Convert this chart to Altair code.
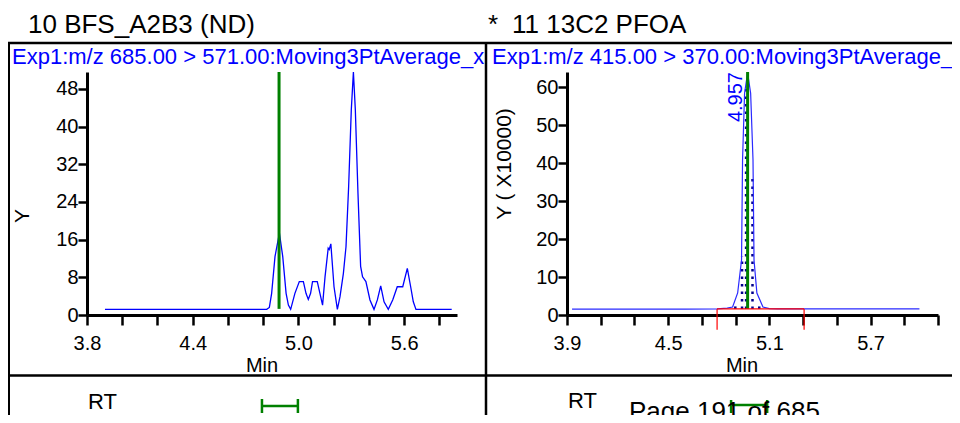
import altair as alt
import pandas as pd

FONT = "Liberation Sans"

# ---------------- data ----------------
# Left panel: 10 BFS_A2B3 (ND)
left_time = [3.902, 4.820, 4.835, 4.848, 4.867, 4.892, 4.911, 4.930, 4.943, 4.956,
             4.980, 5.005, 5.028, 5.043, 5.056, 5.069, 5.080, 5.107, 5.122, 5.137,
             5.151, 5.169, 5.175, 5.184, 5.202, 5.221, 5.236, 5.255, 5.270, 5.285,
             5.300, 5.312, 5.323, 5.338, 5.353, 5.364, 5.383, 5.406, 5.429, 5.448,
             5.467, 5.486, 5.510, 5.535, 5.561, 5.592, 5.618, 5.637, 5.652, 5.667, 5.870]
left_signal = [1.2, 1.2, 1.6, 4.6, 12.4, 17.4, 12.4, 4.6, 2.1, 1.2,
               4.6, 7.1, 7.1, 4.6, 3.3, 4.6, 7.1, 7.1, 4.6, 2.1,
               8.1, 14.2, 13.9, 15.1, 6.0, 1.2, 3.9, 8.8, 14.5, 27.3,
               43.5, 51.6, 43.5, 25.8, 10.3, 8.1, 7.1, 3.2, 1.2, 3.2,
               6.2, 2.8, 1.2, 3.2, 6.0, 6.0, 9.9, 6.0, 2.8, 1.2, 1.2]
left_rt = [4.890]
left_rt_low = [1.3]
left_rt_high = [51.6]
left_window = [4.793, 4.997]
left_x_ticks = [3.8, 4.0, 4.2, 4.4, 4.6, 4.8, 5.0, 5.2, 5.4, 5.6, 5.8]
left_y_ticks = [0, 8, 16, 24, 32, 40, 48]

# Right panel: 11 13C2 PFOA  (Y x 10000)
right_time = [3.930, 4.600, 4.790, 4.850, 4.882, 4.912, 4.935, 4.941, 4.953, 4.971,
              4.989, 5.003, 5.009, 5.026, 5.062, 5.100, 5.150, 5.500, 5.990]
right_signal = [1.55, 1.55, 1.6, 1.8, 2.1, 5.8, 14.5, 40.8, 58.4, 63.8,
                58.4, 40.8, 14.5, 5.8, 2.1, 1.7, 1.6, 1.6, 1.6]
right_rt = [4.971]
right_rt_low = [1.6]
right_rt_high = [64.0]
hatch_time = [4.898, 4.938, 4.962, 5.000, 5.040]
hatch_top = [3.4, 15.5, 60.0, 36.0, 3.4]
hatch_base = [1.6, 1.6, 1.6, 1.6, 1.6]
baseline_time = [4.790, 5.306]
baseline_level = [1.6, 1.6]
baseline_drop = [-3.9, -3.9]
peak_label = ["4.957"]
peak_label_time = [4.938]
peak_label_level = [64.0]
right_window = [4.873, 5.087]
right_x_ticks = [3.9, 4.1, 4.3, 4.5, 4.7, 4.9, 5.1, 5.3, 5.5, 5.7, 5.9, 6.1]
right_y_ticks = [0, 10, 20, 30, 40, 50, 60]

# ---------------- scales & axes ----------------
lx = alt.Scale(domain=[3.8, 5.9], range=[0, 370], nice=False, zero=False)
ly = alt.Scale(domain=[0, 51.6], range=[243, 0], nice=False, zero=False)
rx = alt.Scale(domain=[3.9, 6.1], range=[480, 851], nice=False, zero=False)
ry = alt.Scale(domain=[0, 64], range=[243, 0], nice=False, zero=False)

common = dict(domainColor="black", domainWidth=3, tickColor="black", tickWidth=2.5,
              labelFont=FONT, labelFontSize=20, labelColor="black", grid=False,
              title=None, labelOverlap=False, labelFlush=False)

lx_axis = alt.Axis(orient="bottom", values=left_x_ticks, tickSize=10, labelPadding=8,
                   labelExpr="round((datum.value-3.8)*10) % 6 == 0 ? format(datum.value, '.1f') : ''",
                   **common)
ly_axis = alt.Axis(orient="left", values=left_y_ticks, tickSize=9, labelPadding=0, **common)
rx_axis = alt.Axis(orient="bottom", values=right_x_ticks, tickSize=10, labelPadding=8,
                   labelExpr="round((datum.value-3.9)*10) % 6 == 0 ? format(datum.value, '.1f') : ''",
                   **common)
ry_axis = alt.Axis(orient="left", values=right_y_ticks, tickSize=9, labelPadding=0,
                   offset=-480, **common)

# ---------------- left panel ----------------
ldf = pd.DataFrame({"t": left_time, "v": left_signal})
left_line = alt.Chart(ldf).mark_line(color="#0000ff", strokeWidth=1.3).encode(
    x=alt.X("t:Q", scale=lx, axis=lx_axis), y=alt.Y("v:Q", scale=ly, axis=ly_axis))
left_green = alt.Chart(pd.DataFrame({"t": left_rt, "lo": left_rt_low, "hi": left_rt_high})).mark_rule(
    color="#008000", strokeWidth=3).encode(
    x=alt.X("t:Q", scale=lx, axis=lx_axis), y=alt.Y("lo:Q", scale=ly, axis=ly_axis), y2="hi:Q")
left_win = alt.Chart(pd.DataFrame({"a": [left_window[0]], "b": [left_window[1]]})).mark_rule(
    color="#008000", strokeWidth=2.5).encode(
    x=alt.X("a:Q", scale=lx, axis=lx_axis), x2="b:Q", y=alt.value(334))
left_caps = alt.Chart(pd.DataFrame({"t": left_window})).mark_rule(
    color="#008000", strokeWidth=2.5).encode(
    x=alt.X("t:Q", scale=lx, axis=lx_axis), y=alt.value(327), y2=alt.value(341))
left = alt.layer(left_line, left_green, left_win, left_caps)

# ---------------- right panel ----------------
rdf = pd.DataFrame({"t": right_time, "v": right_signal})
hatch = alt.Chart(pd.DataFrame({"t": hatch_time, "lo": hatch_base, "hi": hatch_top})).mark_rule(
    color="#00008b", strokeWidth=2.5, strokeDash=[2.5, 5]).encode(
    x=alt.X("t:Q", scale=rx, axis=rx_axis), y=alt.Y("lo:Q", scale=ry, axis=ry_axis), y2="hi:Q")
right_line = alt.Chart(rdf).mark_line(color="#2a2aff", strokeWidth=1.2).encode(
    x=alt.X("t:Q", scale=rx, axis=rx_axis), y=alt.Y("v:Q", scale=ry, axis=ry_axis))
right_green = alt.Chart(pd.DataFrame({"t": right_rt, "lo": right_rt_low, "hi": right_rt_high})).mark_rule(
    color="#008000", strokeWidth=3).encode(
    x=alt.X("t:Q", scale=rx, axis=rx_axis), y=alt.Y("lo:Q", scale=ry, axis=ry_axis), y2="hi:Q")
red_base = alt.Chart(pd.DataFrame({"a": [baseline_time[0]], "b": [baseline_time[1]], "v": [baseline_level[0]]})).mark_rule(
    color="#ff0000", strokeWidth=1.2).encode(
    x=alt.X("a:Q", scale=rx, axis=rx_axis), x2="b:Q", y=alt.Y("v:Q", scale=ry, axis=ry_axis))
red_ticks = alt.Chart(pd.DataFrame({"t": baseline_time, "lo": baseline_drop, "hi": baseline_level})).mark_rule(
    color="#ff0000", strokeWidth=1.2).encode(
    x=alt.X("t:Q", scale=rx, axis=rx_axis), y=alt.Y("lo:Q", scale=ry, axis=ry_axis), y2="hi:Q")
peak_txt = alt.Chart(pd.DataFrame({"t": peak_label_time, "v": peak_label_level, "s": peak_label})).mark_text(
    color="#0000ff", font=FONT, fontSize=20, angle=270, align="right", baseline="alphabetic").encode(
    x=alt.X("t:Q", scale=rx, axis=rx_axis), y=alt.Y("v:Q", scale=ry, axis=ry_axis), text="s:N")
right_win = alt.Chart(pd.DataFrame({"a": [right_window[0]], "b": [right_window[1]]})).mark_rule(
    color="#008000", strokeWidth=2.5).encode(
    x=alt.X("a:Q", scale=rx, axis=rx_axis), x2="b:Q", y=alt.value(333))
right_caps = alt.Chart(pd.DataFrame({"t": right_window})).mark_rule(
    color="#008000", strokeWidth=2.5).encode(
    x=alt.X("t:Q", scale=rx, axis=rx_axis), y=alt.value(328), y2=alt.value(341))
right = alt.layer(hatch, right_line, right_green, red_base, red_ticks, peak_txt, right_win, right_caps)


# ---------------- page decorations ----------------
def label(text, x, y, size, color="black", align="left", baseline="alphabetic", angle=0, font=FONT):
    return alt.Chart(alt.Data(values=[{}])).mark_text(
        text=text, align=align, baseline=baseline, angle=angle, font=font,
        fontSize=size, color=color).encode(x=alt.value(x), y=alt.value(y))


def hline(x1, x2, y, w):
    return alt.Chart(alt.Data(values=[{}])).mark_rule(color="black", strokeWidth=w).encode(
        x=alt.value(x1), x2=alt.value(x2), y=alt.value(y))


def vline(x, y1, y2, w):
    return alt.Chart(alt.Data(values=[{}])).mark_rule(color="black", strokeWidth=w).encode(
        x=alt.value(x), y=alt.value(y1), y2=alt.value(y2))


decor = [
    label("10 BFS_A2B3 (ND)", -59, -39, 26),
    label("*", 401, -39, 26),
    label("11 13C2 PFOA", 425, -39, 26),
    label("Exp1:m/z 685.00 > 571.00:Moving3PtAverage_x", -75, -8, 22, color="#0000ff"),
    label("Exp1:m/z 415.00 > 370.00:Moving3PtAverage_x", 405, -8, 22, color="#0000ff"),
    label("Y", -64, 144, 21, align="center", baseline="middle", angle=270),
    label("Y ( X10000)", 418, 92, 21, align="center", baseline="middle", angle=270),
    label("Min", 175, 300, 20, align="center"),
    label("Min", 655, 300, 20, align="center"),
    label("RT", 1, 337, 22),
    label("RT", 481, 336, 22),
    label("Page 191 of 685", 542, 348, 26),
    hline(-79, 873, -29, 2.5),
    hline(-79, 873, 303.5, 2.5),
    vline(-78, -30, 351, 2),
    vline(399, -30, 351, 2.5),
]

chart = alt.layer(left, right, *decor).resolve_scale(
    x="independent", y="independent").resolve_axis(
    x="independent", y="independent").properties(
    width=851, height=243,
    autosize=alt.AutoSizeParams(type="none"),
    padding={"left": 79, "top": 64, "right": 14, "bottom": 100},
    background="white",
).configure_view(stroke=None)

chart.save("out.html", embed_options={"renderer": "svg", "actions": False})
